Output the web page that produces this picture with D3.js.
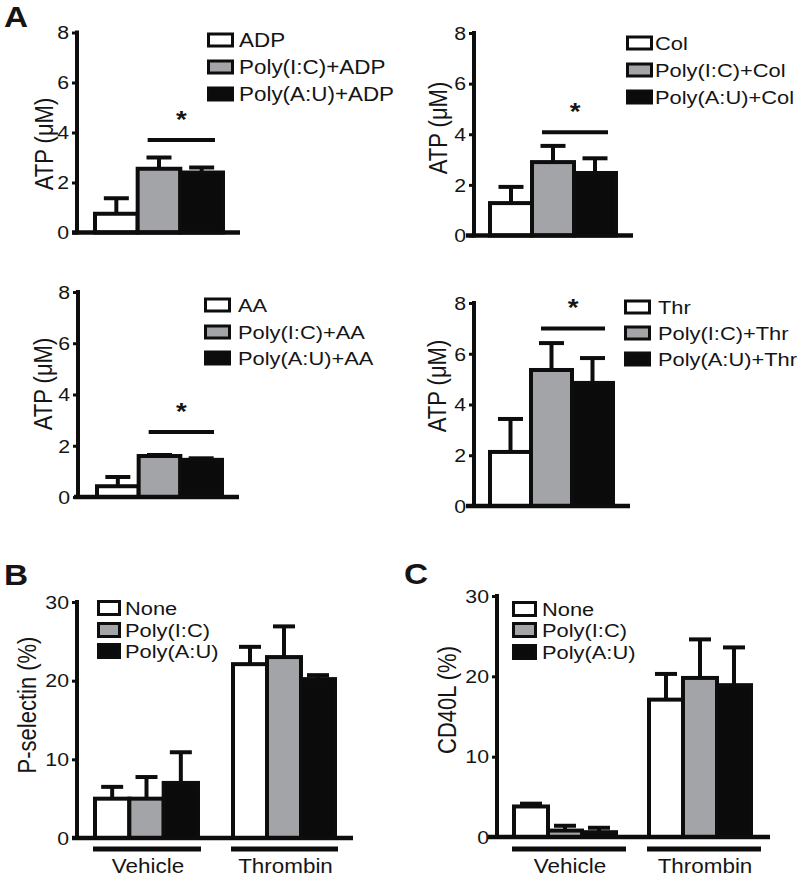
<!DOCTYPE html>
<html>
<head>
<meta charset="utf-8">
<script src="https://cdn.jsdelivr.net/npm/d3@7"></script>
<style>
  body { margin: 0; background: #fff; }
  text { font-family: "Liberation Sans", Arial, Helvetica, sans-serif; fill: #151515; }
</style>
</head>
<body>
<svg id="chart" width="800" height="877"></svg>
<script>
// ---------------- DATA ----------------
const atpAgonists = ["ADP", "Col", "AA", "Thr"];
const atpPrefixes = ["", "Poly(I:C)+", "Poly(A:U)+"];
const atpTicks = [0, 2, 4, 6, 8];
const atpMeanADP = [0.75, 2.55, 2.4];
const atpErrADP  = [0.62, 0.45, 0.2];
const atpMeanCol = [1.28, 2.9, 2.47];
const atpErrCol  = [0.64, 0.64, 0.58];
const atpMeanAA  = [0.42, 1.6, 1.45];
const atpErrAA   = [0.36, 0.04, 0.06];
const atpMeanThr = [2.13, 5.36, 4.85];
const atpErrThr  = [1.3, 1.06, 0.98];
const atpSigLevel = [3.7, 4.08, 2.54, 7.0];

const flowGroups = ["Vehicle", "Thrombin"];
const flowSeries = ["None", "Poly(I:C)", "Poly(A:U)"];
const flowTicks = [0, 10, 20, 30];
const pselVehicleMean  = [5.0, 5.0, 7.0];
const pselVehicleErr   = [1.5, 2.75, 3.9];
const pselThrombinMean = [22.1, 23.0, 20.2];
const pselThrombinErr  = [2.2, 3.9, 0.5];
const cd40VehicleMean  = [3.8, 0.8, 0.6];
const cd40VehicleErr   = [0.35, 0.6, 0.55];
const cd40ThrombinMean = [17.1, 19.8, 18.9];
const cd40ThrombinErr  = [3.2, 4.8, 4.7];

// ---------------- STYLE ----------------
const fills = ["#ffffff", "#a2a4a7", "#0b0b0b"];
const ink = "#0d0d0d";
const SX = 1.15; // horizontal stretch of the original figure's lettering

const svg = d3.select("#chart");

function label(g, x, y, str, size, anchor, weight) {
  return g.append("text")
    .attr("transform", `translate(${x},${y}) scale(${SX},1)`)
    .attr("text-anchor", anchor || "start")
    .style("font-size", size + "px")
    .style("font-weight", weight || "normal")
    .text(str);
}

function drawPanel(p) {
  const g = svg.append("g");
  const y = d3.scaleLinear().domain([0, p.yMax]).range([p.y0, p.y1]);

  // ticks + tick labels via d3 axis
  const axis = d3.axisLeft(y).tickValues(p.ticks).tickSize(5).tickFormat(d3.format("d"));
  const ag = g.append("g").attr("transform", `translate(${p.axisX},0)`).call(axis);
  ag.select(".domain").remove();
  ag.selectAll(".tick line").attr("stroke", ink).attr("stroke-width", 3);
  ag.selectAll(".tick text")
    .attr("x", 0).attr("dy", "0.34em")
    .attr("transform", `translate(-8,0) scale(${SX},1)`)
    .attr("fill", "#151515")
    .style("font-size", "18.5px")
    .style("font-family", '"Liberation Sans", Arial, sans-serif');

  // y label (rotated)
  g.append("text")
    .attr("transform", `translate(${p.ylab[0]},${p.ylab[1]}) scale(${SX},1) rotate(-90)`)
    .attr("text-anchor", "middle")
    .attr("dy", "0.36em")
    .style("font-size", p.ylabSize + "px")
    .text(p.ylabText);

  // bars per group
  p.groups.forEach((grp, gi) => {
    const xb = d3.scaleBand().domain(d3.range(grp.mean.length)).range(p.bands[gi]).padding(0);
    const bw = xb.bandwidth();
    // error bars (upward only)
    grp.mean.forEach((m, i) => {
      const cx = xb(i) + bw / 2;
      g.append("line").attr("x1", cx).attr("x2", cx)
        .attr("y1", y(m)).attr("y2", y(m + grp.err[i]))
        .attr("stroke", ink).attr("stroke-width", 4);
      g.append("line").attr("x1", cx - p.capW / 2).attr("x2", cx + p.capW / 2)
        .attr("y1", y(m + grp.err[i])).attr("y2", y(m + grp.err[i]))
        .attr("stroke", ink).attr("stroke-width", 4);
    });
    g.selectAll(null).data(grp.mean).enter().append("rect")
      .attr("x", (d, i) => xb(i))
      .attr("y", d => y(d))
      .attr("width", bw)
      .attr("height", d => y(0) - y(d))
      .attr("fill", (d, i) => fills[i])
      .attr("stroke", ink).attr("stroke-width", 4);

    if (grp.sig !== undefined) {
      const ys = y(grp.sig);
      g.append("line")
        .attr("x1", xb(1) + 10).attr("x2", xb(2) + bw - 8)
        .attr("y1", ys).attr("y2", ys)
        .attr("stroke", ink).attr("stroke-width", 4);
      const sx = (xb(1) + 10 + xb(2) + bw - 8) / 2;
      label(g, sx, ys - 12, "*", 24, "middle", "bold");
    }
    if (grp.name !== undefined) {
      const ly = p.catLineY;
      g.append("line")
        .attr("x1", p.bands[gi][0] - 2).attr("x2", p.bands[gi][1] + p.catExtra)
        .attr("y1", ly).attr("y2", ly)
        .attr("stroke", ink).attr("stroke-width", 5);
      label(g, (p.bands[gi][0] + p.bands[gi][1] + p.catExtra) / 2, 873, grp.name, 19.5, "middle");
    }
  });

  // axis lines
  g.append("line").attr("x1", p.axisX).attr("x2", p.axisX)
    .attr("y1", y(p.yMax) - 2).attr("y2", y(0) + 2)
    .attr("stroke", ink).attr("stroke-width", 4);
  g.append("line").attr("x1", p.base[0]).attr("x2", p.base[1])
    .attr("y1", y(0)).attr("y2", y(0))
    .attr("stroke", ink).attr("stroke-width", 4.5);

  // legend
  p.legend.forEach((t, i) => {
    const cy = p.legRows[i];
    g.append("rect")
      .attr("x", p.legX + 1.5).attr("y", cy - p.legH / 2)
      .attr("width", p.legW - 3).attr("height", p.legH)
      .attr("fill", fills[i]).attr("stroke", ink).attr("stroke-width", 3);
    label(g, p.legTextX, cy + 6.8, t, p.legSize, "start");
  });
}

const atpMeans = [atpMeanADP, atpMeanCol, atpMeanAA, atpMeanThr];
const atpErrs = [atpErrADP, atpErrCol, atpErrAA, atpErrThr];
const atpLayout = [
  { axisX: 77, y0: 232.5, y1: 32.5, base: [72, 240], band: [95, 223], legX: 207, legRows: [40, 67, 94], legTextX: 239, ylab: [44, 144], legSize: 19.5 },
  { axisX: 474, y0: 235.5, y1: 33, base: [466, 633], band: [490, 616], legX: 626, legRows: [43, 70, 97], legTextX: 655, ylab: [438, 128], legSize: 19 },
  { axisX: 78, y0: 497, y1: 292, base: [74, 239], band: [97, 222], legX: 204, legRows: [305, 332, 358], legTextX: 238, ylab: [43, 384], legSize: 19 },
  { axisX: 474, y0: 506, y1: 303, base: [466, 630], band: [490, 613], legX: 624, legRows: [307, 333, 359], legTextX: 658, ylab: [437, 386], legSize: 19 }
];

atpAgonists.forEach((ag, k) => {
  const L = atpLayout[k];
  drawPanel({
    yMax: 8, ticks: atpTicks, axisX: L.axisX, y0: L.y0, y1: L.y1, base: L.base,
    bands: [L.band], capW: 25,
    groups: [{ mean: atpMeans[k], err: atpErrs[k], sig: atpSigLevel[k] }],
    ylab: L.ylab, ylabText: "ATP (\u03BCM)", ylabSize: 22,
    legend: atpPrefixes.map(pf => pf + ag), legX: L.legX, legW: 27, legH: 12,
    legRows: L.legRows, legTextX: L.legTextX, legSize: L.legSize
  });
});

drawPanel({
  yMax: 30, ticks: flowTicks, axisX: 77, y0: 838, y1: 602, base: [72, 353],
  bands: [[95, 198], [233, 335]], capW: 22, catLineY: 849, catExtra: 3,
  groups: [
    { mean: pselVehicleMean, err: pselVehicleErr, name: flowGroups[0] },
    { mean: pselThrombinMean, err: pselThrombinErr, name: flowGroups[1] }
  ],
  ylab: [27, 705], ylabText: "P-selectin (%)", ylabSize: 22,
  legend: flowSeries, legX: 97, legW: 24, legH: 13, legRows: [608, 630, 651], legTextX: 125, legSize: 19
});

drawPanel({
  yMax: 30, ticks: flowTicks, axisX: 497, y0: 837, y1: 596, base: [488, 770],
  bands: [[514, 616], [649, 751]], capW: 22, catLineY: 849, catExtra: 10,
  groups: [
    { mean: cd40VehicleMean, err: cd40VehicleErr, name: flowGroups[0] },
    { mean: cd40ThrombinMean, err: cd40ThrombinErr, name: flowGroups[1] }
  ],
  ylab: [447, 700], ylabText: "CD40L (%)", ylabSize: 22,
  legend: flowSeries, legX: 512, legW: 25, legH: 13, legRows: [609, 630, 652], legTextX: 542, legSize: 19
});

// panel letters
label(svg, 4, 27, "A", 29, "start", "bold");
label(svg, 4, 585, "B", 29, "start", "bold");
label(svg, 404, 584, "C", 29, "start", "bold");
</script>
</body>
</html>
